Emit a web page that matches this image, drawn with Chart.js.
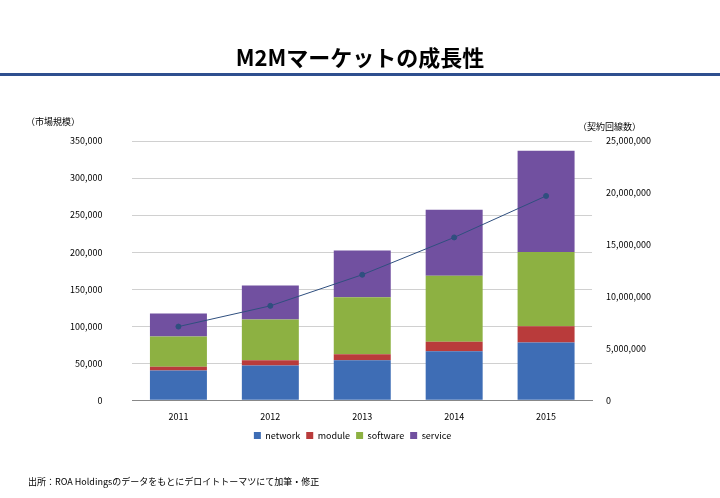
<!DOCTYPE html>
<html><head><meta charset="utf-8">
<script src="https://cdn.jsdelivr.net/npm/chart.js@4/dist/chart.umd.min.js"></script>
<style>html,body{margin:0;padding:0;background:#fff}#c{position:absolute;left:0;top:0}</style>
</head><body>
<canvas id="c" width="720" height="498"></canvas>
<script>
const years=['2011','2012','2013','2014','2015'];
const network=[40000,47000,54000,66000,78000];
const moduleV=[5000,7000,8000,13000,22000];
const software=[41000,55000,77000,89000,100000];
const service=[31000,46000,63000,89000,137000];
const lines=[7100000,9100000,12100000,15700000,19700000];
const F='"Noto Sans CJK JP","Liberation Sans",sans-serif';
const deco={id:'deco',afterDraw(ch){const c=ch.ctx;c.save();
c.fillStyle='#000';c.font='bold 22px '+F;c.textAlign='center';c.fillText('M2Mマーケットの成長性',360,58);
c.fillStyle='#2f4f8f';c.fillRect(0,73,720,3);
c.font='9px '+F;c.textAlign='left';c.fillStyle='#000';
c.fillText('（市場規模）',26,122);c.fillText('（契約回線数）',578,127);
c.fillText('出所：ROA Holdingsのデータをもとにデロイトトーマツにて加筆・修正',28,482);c.restore();}};
new Chart(document.getElementById('c'),{type:'bar',
data:{labels:years,datasets:[
{type:'line',label:'lines',data:lines,yAxisID:'y1',borderColor:'#2f4f7f',backgroundColor:'#2f4f7f',borderWidth:1,pointRadius:2.5,order:0},
{label:'network',data:network,backgroundColor:'#3e6db5',order:1},
{label:'module',data:moduleV,backgroundColor:'#b93b3b',order:1},
{label:'software',data:software,backgroundColor:'#8db142',order:1},
{label:'service',data:service,backgroundColor:'#7150a0',order:1}]},
options:{responsive:false,animation:false,
layout:{padding:{left:40,right:55,top:141,bottom:48}},
datasets:{bar:{barPercentage:0.62,categoryPercentage:1}},
plugins:{legend:{position:'bottom',labels:{filter:i=>i.text!=='lines',boxWidth:7,boxHeight:7,font:{size:9,family:F},color:'#000',padding:6}},tooltip:{enabled:false}},
scales:{x:{stacked:true,grid:{display:false},border:{color:'#888'},ticks:{font:{size:9,family:F},color:'#000'}},
y:{stacked:true,min:0,max:350000,ticks:{stepSize:50000,font:{size:9,family:F},color:'#000',padding:30,callback:v=>v.toLocaleString('en-US')},grid:{color:'#d0d0d0',drawTicks:false},border:{display:false}},
y1:{position:'right',min:0,max:25000000,ticks:{stepSize:5000000,font:{size:9,family:F},color:'#000',padding:14,callback:v=>v.toLocaleString('en-US')},grid:{display:false,drawTicks:false},border:{display:false}}}},
plugins:[deco]});
</script></body></html>
